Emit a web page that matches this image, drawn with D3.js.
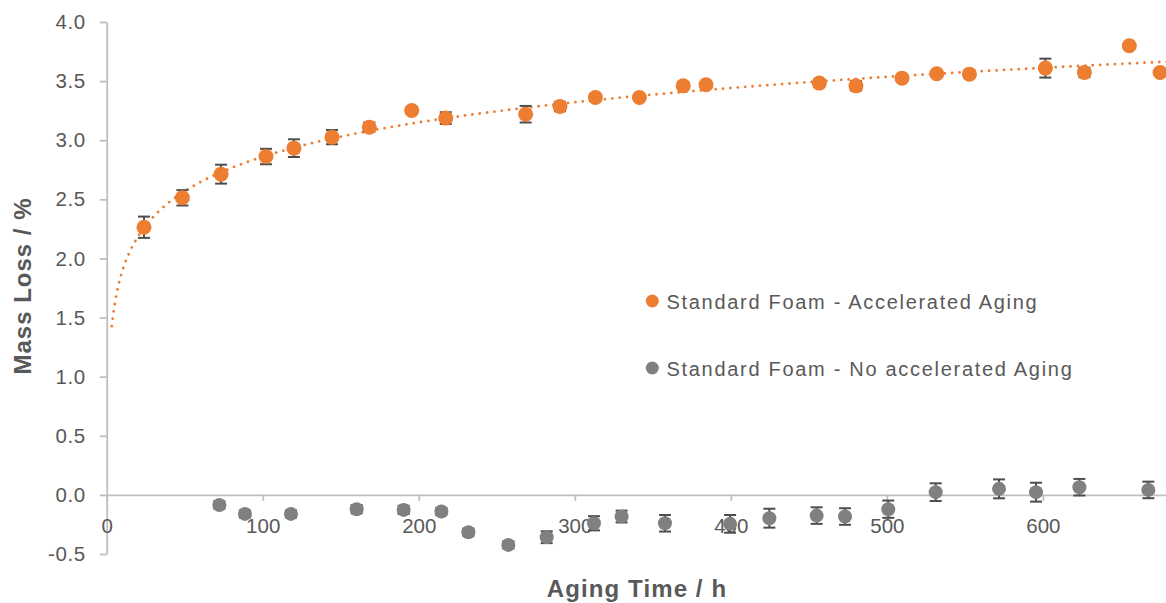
<!DOCTYPE html>
<html>
<head>
<meta charset="utf-8">
<script src="https://cdn.jsdelivr.net/npm/d3@7"></script>
<style>
  html, body { margin: 0; padding: 0; background: #fff; }
  svg { display: block; font-family: "Liberation Sans", Arial, sans-serif; }
</style>
</head>
<body>
<svg id="chart" width="1166" height="603"></svg>
<script>
// Aging time (h) and mass loss (%) with standard deviation, accelerated aging
const agedTime = [23.9, 48.5, 73.3, 102.1, 120, 144.4, 168.3, 195.5, 217.3, 268.5, 290.5, 313.2,
                  341.4, 369.5, 384.1, 456.7, 480.2, 509.7, 532, 552.9, 601.6, 626.6, 655.4, 675.1];
const agedLoss = [2.264, 2.513, 2.713, 2.862, 2.933, 3.026, 3.11, 3.251, 3.187, 3.22, 3.285, 3.361,
                  3.361, 3.46, 3.469, 3.483, 3.46, 3.525, 3.562, 3.559, 3.61, 3.573, 3.799, 3.573];
const agedErr  = [0.09, 0.065, 0.08, 0.065, 0.075, 0.06, 0.04, 0.03, 0.05, 0.07, 0.04, 0.03,
                  0.02, 0.03, 0.02, 0.03, 0.04, 0.02, 0.02, 0.03, 0.08, 0.04, 0.02, 0.02];

// Reference samples kept without accelerated aging
const refTime = [72.2, 88.6, 118.1, 160.2, 190.3, 214.5, 231.8, 257.4, 282, 312.3, 330,
                 357.8, 399.5, 424.7, 455, 473.2, 500.9, 531.3, 571.9, 595.6, 623.4, 667.6];
const refLoss = [-0.085, -0.161, -0.161, -0.121, -0.127, -0.141, -0.316, -0.423, -0.358, -0.24, -0.183,
                 -0.24, -0.245, -0.197, -0.175, -0.183, -0.121, 0.023, 0.051, 0.023, 0.065, 0.042];
const refErr  = [0.03, 0.03, 0.03, 0.035, 0.035, 0.03, 0.03, 0.03, 0.05, 0.06, 0.05,
                 0.07, 0.075, 0.08, 0.07, 0.07, 0.073, 0.075, 0.08, 0.08, 0.07, 0.07];

const xTicks = [0, 100, 200, 300, 400, 500, 600];
const yTicks = [-0.5, 0, 0.5, 1.0, 1.5, 2.0, 2.5, 3.0, 3.5, 4.0];
const seriesNames = ["Standard Foam - Accelerated Aging", "Standard Foam - No accelerated Aging"];
const xTitle = "Aging Time / h";
const yTitle = "Mass Loss / %";

const ORANGE = "#ED7D31", GREY = "#808080", TEXT = "#595959", AXIS = "#BFBFBF", BAR = "#4D4D4D";

const svg = d3.select("#chart");
const x = d3.scaleLinear().domain([0, 680]).range([106.7, 1167.7]);
const y = d3.scaleLinear().domain([-0.5, 4.0]).range([554, 22]);

// axes
const yAxis = svg.append("g").attr("transform", `translate(${x(0)},0)`)
  .call(d3.axisLeft(y).tickValues(yTicks).tickFormat(d3.format(".1f"))
        .tickSize(7).tickSizeOuter(0).tickPadding(14));
const xAxis = svg.append("g").attr("transform", `translate(0,${y(0)})`)
  .call(d3.axisBottom(x).tickValues(xTicks).tickFormat(d3.format("d"))
        .tickSize(6).tickSizeOuter(0).tickPadding(18));
[xAxis, yAxis].forEach(g => {
  g.selectAll("path, line").attr("stroke", AXIS).attr("stroke-width", 1.8);
  g.selectAll("text").attr("fill", TEXT).attr("font-size", 20.5)
    .attr("font-family", "'Liberation Sans', Arial, sans-serif");
});
yAxis.selectAll("text").attr("letter-spacing", 0.6)
  .text(d => d < 0 ? "-" + d3.format(".1f")(-d) : d3.format(".1f")(d));

// logarithmic trend line fitted to the accelerated-aging series
const lx = agedTime.map(Math.log);
const mx = d3.mean(lx), my = d3.mean(agedLoss);
const slope = d3.sum(lx, (v, i) => (v - mx) * (agedLoss[i] - my)) / d3.sum(lx, v => (v - mx) ** 2);
const icpt = my - slope * mx;
const trendX = d3.range(3.3, 680, 0.5);
svg.append("path")
  .datum(trendX)
  .attr("fill", "none").attr("stroke", ORANGE).attr("stroke-width", 2.8)
  .attr("stroke-linecap", "round").attr("stroke-dasharray", "0.01 7.4")
  .attr("d", d3.line().x(t => x(t)).y(t => y(slope * Math.log(t) + icpt)));

// error bars and markers
function drawSeries(ts, vs, es, color, r) {
  const data = ts.map((t, i) => ({ t, v: vs[i], e: es[i] }));
  const eb = svg.append("g").attr("stroke", BAR).attr("stroke-width", 2);
  eb.selectAll("line.stem").data(data).join("line")
    .attr("x1", d => x(d.t)).attr("x2", d => x(d.t))
    .attr("y1", d => y(d.v + d.e)).attr("y2", d => y(d.v - d.e));
  eb.selectAll("line.top").data(data).join("line")
    .attr("x1", d => x(d.t) - 6).attr("x2", d => x(d.t) + 6)
    .attr("y1", d => y(d.v + d.e)).attr("y2", d => y(d.v + d.e));
  eb.selectAll("line.bot").data(data).join("line")
    .attr("x1", d => x(d.t) - 6).attr("x2", d => x(d.t) + 6)
    .attr("y1", d => y(d.v - d.e)).attr("y2", d => y(d.v - d.e));
  svg.append("g").selectAll("circle").data(data).join("circle")
    .attr("cx", d => x(d.t)).attr("cy", d => y(d.v)).attr("r", r)
    .attr("fill", color);
}
drawSeries(refTime, refLoss, refErr, GREY, 7);
drawSeries(agedTime, agedLoss, agedErr, ORANGE, 7.5);

// legend
const legend = svg.append("g");
[ORANGE, GREY].forEach((c, i) => {
  const ly = 301 + i * 67;
  legend.append("circle").attr("cx", 652.3).attr("cy", ly).attr("r", 6.5).attr("fill", c);
  legend.append("text").attr("x", 666.5).attr("y", ly + 7.5)
    .attr("fill", TEXT).attr("font-size", 20).attr("letter-spacing", 1.7)
    .text(seriesNames[i]);
});

// axis titles
svg.append("text").attr("x", 637).attr("y", 597).attr("text-anchor", "middle")
  .attr("fill", TEXT).attr("font-size", 24).attr("font-weight", "bold").attr("letter-spacing", 1.1)
  .text(xTitle);
svg.append("text").attr("transform", "translate(31,286) rotate(-90)").attr("text-anchor", "middle")
  .attr("fill", TEXT).attr("font-size", 24).attr("font-weight", "bold").attr("letter-spacing", 1.0)
  .text(yTitle);
</script>
</body>
</html>
